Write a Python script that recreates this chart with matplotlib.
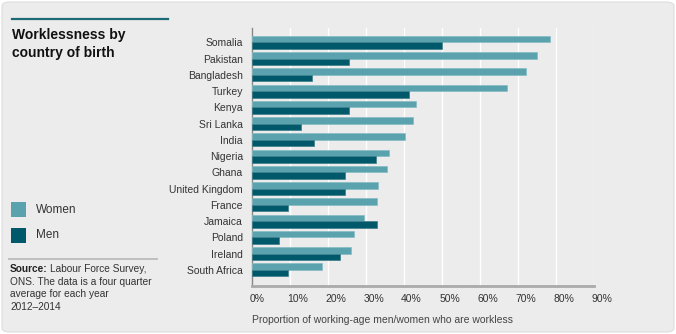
import matplotlib.pyplot as plt
import numpy as np
from matplotlib.patches import FancyBboxPatch, Rectangle
from matplotlib.lines import Line2D
from matplotlib.transforms import ScaledTranslation

plt.rcParams['font.family'] = ['Liberation Sans', 'DejaVu Sans']

countries = ['Somalia', 'Pakistan', 'Bangladesh', 'Turkey', 'Kenya', 'Sri Lanka', 'India',
             'Nigeria', 'Ghana', 'United Kingdom', 'France', 'Jamaica', 'Poland', 'Ireland',
             'South Africa']
women = [78.5, 75.0, 72.1, 67.1, 43.1, 42.4, 40.2, 36.1, 35.5, 33.1, 33.0, 29.6, 26.9, 26.0, 18.5]
men = [50.0, 25.4, 15.8, 41.4, 25.5, 13.0, 16.3, 32.5, 24.4, 24.6, 9.5, 33.0, 7.0, 23.1, 9.6]
xticks = [0, 10, 20, 30, 40, 50, 60, 70, 80, 90]

W, H = 676, 334
bg = '#ececec'
c_women = '#5aa2ae'
c_men = '#00596a'

fig = plt.figure(figsize=(W / 100, H / 100), dpi=100)
fig.patch.set_facecolor('white')

def fx(px):
    return px / W

def fy(py):
    return 1 - py / H

# rounded background panel
fig.patches.append(FancyBboxPatch((fx(2), fy(332)), fx(672), 330 / H,
                                  boxstyle='round,pad=0,rounding_size=0.012',
                                  transform=fig.transFigure, facecolor=bg,
                                  edgecolor='#dddddd', linewidth=0.8, zorder=-10))

ax = fig.add_axes([fx(252), fy(286), fx(594) - fx(252), fy(28) - fy(286)])
ax.set_facecolor(bg)
ax.set_zorder(5)

y = np.arange(len(countries))
ax.barh(y - 0.2, women, height=0.4, color=c_women, edgecolor='#86bcc5', linewidth=0.5, zorder=3)
ax.barh(y + 0.2, men, height=0.4, color=c_men, edgecolor='#3d7e8a', linewidth=0.5, zorder=3)

ax.set_xlim(0, 90)
ax.set_ylim(len(countries) - 1 + 1.0, -0.89)
ax.set_yticks(y)
ax.set_yticklabels(countries, fontsize=7.5, color='#333333')
ax.tick_params(axis='y', length=0, pad=6.5)
ax.set_xticks(xticks)
ax.set_xticklabels([f'{t}%' for t in xticks], fontsize=7.5, color='#333333', ha='left')
ax.tick_params(axis='x', length=0, pad=6)
shift = ScaledTranslation(-2 / 72, 0, fig.dpi_scale_trans)
for lab in ax.get_xticklabels():
    lab.set_transform(lab.get_transform() + shift)

ax.grid(axis='x', color='white', linewidth=1.0, zorder=1)
ax.set_axisbelow(True)
for s in ['top', 'right']:
    ax.spines[s].set_visible(False)
ax.spines['left'].set_color('#888888')
ax.spines['left'].set_linewidth(1.0)
ax.spines['bottom'].set_color('#aaaaaa')
ax.spines['bottom'].set_linewidth(2.0)

ax.set_xlabel('Proportion of working-age men/women who are workless', fontsize=7.5,
              color='#444444', loc='left', labelpad=8)

# left-hand panel
fig.add_artist(Line2D([fx(12), fx(168)], [fy(19), fy(19)], color='#1d6a76', linewidth=1.6))
fig.text(fx(12), fy(28), 'Worklessness by\ncountry of birth', fontsize=10, fontweight='bold',
         color='#111111', va='top', ha='left', linespacing=1.35)

fig.add_artist(Rectangle((fx(11), fy(217)), fx(15), 15 / H, transform=fig.transFigure,
                         facecolor=c_women, edgecolor='none'))
fig.add_artist(Rectangle((fx(11), fy(243)), fx(15), 15 / H, transform=fig.transFigure,
                         facecolor=c_men, edgecolor='none'))
fig.text(fx(36), fy(210), 'Women', fontsize=8.5, color='#333333', va='center', ha='left')
fig.text(fx(36), fy(235), 'Men', fontsize=8.5, color='#333333', va='center', ha='left')

fig.add_artist(Line2D([fx(9), fx(157)], [fy(259), fy(259)], color='#bbbbbb', linewidth=1.3))
src_bold = fig.text(fx(10), fy(264), 'Source:', fontsize=7.3, fontweight='bold', color='#222222',
                    va='top', ha='left')
renderer = fig.canvas.get_renderer()
bw = src_bold.get_window_extent(renderer).width
fig.text(fx(10) + (bw + 2.5) / W, fy(264), 'Labour Force Survey,', fontsize=7.3, color='#333333',
         va='top', ha='left')
fig.text(fx(10), fy(264) - 13 / H, 'ONS. The data is a four quarter\naverage for each year\n2012\u20132014',
         fontsize=7.3, color='#333333', va='top', ha='left', linespacing=1.3)

fig.savefig('out.png', dpi=100, facecolor=fig.get_facecolor())
